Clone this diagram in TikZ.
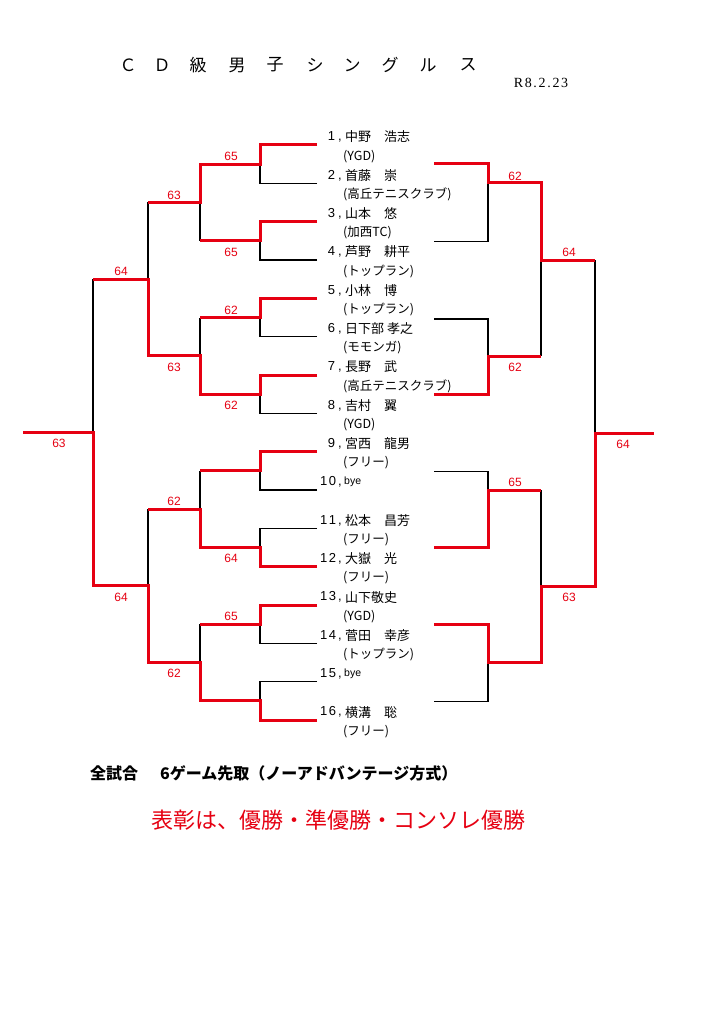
\documentclass[tikz,border=0pt]{standalone}
\usepackage{fontspec}
\setmainfont{Noto Sans CJK JP}
\newfontfamily\lat{Liberation Sans}
\newfontfamily\dtf[LetterSpace=12]{Liberation Serif}
\definecolor{rd}{RGB}{230,0,18}
\begin{document}
\begin{tikzpicture}[x=1pt,y=-1pt,
  win/.style={draw=rd,line width=3pt,line join=miter},
  lose/.style={draw=black,line width=1.3pt,line join=miter},
  sc/.style={text=rd,font=\lat\fontsize{12}{12}\selectfont,inner sep=0},
  nm/.style={anchor=west,inner sep=0,font=\fontsize{13}{13}\selectfont},
  af/.style={anchor=west,inner sep=0,font=\fontsize{12.5}{12.5}\selectfont},
  num/.style={anchor=east,inner sep=0,font=\lat\fontsize{13}{13}\selectfont},
  ttl/.style={inner sep=0,font=\fontsize{17}{17}\selectfont}]
\fill[white] (0,0) rectangle (724,1024);
\useasboundingbox (0,0) rectangle (724,1024);
% title
\foreach \xx/\cc [count=\i] in {128/Ｃ,162/Ｄ,198/級,237/男,275/子,315/シ,352/ン,390/グ,428/ル,468/ス}
  \node[ttl] (t\i) at (\xx,65) {\cc};
\node[inner sep=0,font=\dtf\fontsize{14}{14}\selectfont] (date) at (541,83) {R8.2.23};
% ===== left bracket: black (losers) =====
\draw[lose] (317,183.3) -- (260,183.3) -- (260,164.2);
\draw[lose] (317,260) -- (260,260) -- (260,240.8);
\draw[lose] (317,336.7) -- (260,336.7) -- (260,317.5);
\draw[lose] (317,413.3) -- (260,413.3) -- (260,394.2);
\draw[lose] (317,490) -- (260,490) -- (260,470.8);
\draw[lose] (317,528.3) -- (260,528.3) -- (260,547.5);
\draw[lose] (317,643.3) -- (260,643.3) -- (260,624.2);
\draw[lose] (317,681.7) -- (260,681.7) -- (260,700.8);
\draw[lose] (200,240.8) -- (200,202.5);
\draw[lose] (200,317.5) -- (200,355.8);
\draw[lose] (200,470.8) -- (200,509.2);
\draw[lose] (200,624.2) -- (200,662.5);
\draw[lose] (148,202.5) -- (148,279.2);
\draw[lose] (148,509.2) -- (148,585.8);
\draw[lose] (93,279.2) -- (93,432.5);
% ===== left bracket: red (winners) =====
\draw[win] (317,145) -- (260,145) -- (260,164.2) -- (200,164.2) -- (200,202.5) -- (148,202.5);
\draw[win] (317,221.7) -- (260,221.7) -- (260,240.8) -- (200,240.8);
\draw[win] (317,298.3) -- (260,298.3) -- (260,317.5) -- (200,317.5);
\draw[win] (317,375) -- (260,375) -- (260,394.2) -- (200,394.2) -- (200,355.8) -- (148,355.8) -- (148,279.2) -- (93,279.2);
\draw[win] (317,451.7) -- (260,451.7) -- (260,470.8) -- (200,470.8);
\draw[win] (317,566.7) -- (260,566.7) -- (260,547.5) -- (200,547.5) -- (200,509.2) -- (148,509.2);
\draw[win] (317,605) -- (260,605) -- (260,624.2) -- (200,624.2);
\draw[win] (317,720) -- (260,720) -- (260,700.8) -- (200,700.8) -- (200,662.5) -- (148,662.5) -- (148,585.8) -- (93,585.8) -- (93,432.5) -- (23,432.5);
% left scores
\node[sc] (sA) at (231,156) {65};
\node[sc] (sB) at (231,252) {65};
\node[sc] (sAB) at (174,195) {63};
\node[sc] (sC) at (231,310) {62};
\node[sc] (sD) at (231,405) {62};
\node[sc] (sCD) at (174,367) {63};
\node[sc] (sU) at (121,271) {64};
\node[sc] (sF) at (231,558) {64};
\node[sc] (sEF) at (174,501) {62};
\node[sc] (sG) at (231,616) {65};
\node[sc] (sGH) at (174,673) {62};
\node[sc] (sL) at (121,597) {64};
\node[sc] (sLF) at (59,443) {63};
% ===== right bracket: black =====
\draw[lose] (434,241.5) -- (488,241.5) -- (488,183);
\draw[lose] (434,319) -- (488,319) -- (488,356);
\draw[lose] (541,260) -- (541,356);
\draw[lose] (434,471.7) -- (488,471.7) -- (488,490);
\draw[lose] (434,701.7) -- (488,701.7) -- (488,662.7);
\draw[lose] (541,490) -- (541,586);
\draw[lose] (595,260) -- (595,433);
% ===== right bracket: red =====
\draw[win] (434,164) -- (488,164) -- (488,183) -- (541,183) -- (541,260) -- (595,260);
\draw[win] (434,394) -- (488,394) -- (488,356) -- (541,356);
\draw[win] (434,547.7) -- (488,547.7) -- (488,490) -- (541,490);
\draw[win] (434,624) -- (488,624) -- (488,662.7) -- (541,662.7) -- (541,586) -- (595,586) -- (595,433) -- (654,433);
% right scores
\node[sc] (rA) at (515,176) {62};
\node[sc] (rB) at (515,367) {62};
\node[sc] (rU) at (569,252) {64};
\node[sc] (rC) at (515,482) {65};
\node[sc] (rL) at (569,597) {63};
\node[sc] (rF) at (623,444) {64};
% ===== players =====
\node[num] (n1) at (342,137) {1\kern3pt,};   \node[nm] (p1) at (345,137) {中野　浩志};
\node[af] (a1) at (343,156.2) {(YGD)};
\node[num] (n2) at (342,175.3) {2\kern3pt,}; \node[nm] (p2) at (345,175.3) {首藤　崇};
\node[af] (a2) at (343,194.5) {(高丘テニスクラブ)};
\node[num] (n3) at (342,213.7) {3\kern3pt,}; \node[nm] (p3) at (345,213.7) {山本　悠};
\node[af] (a3) at (343,232.9) {(加西TC)};
\node[num] (n4) at (342,252) {4\kern3pt,};   \node[nm] (p4) at (345,252) {芦野　耕平};
\node[af] (a4) at (343,271.2) {(トップラン)};
\node[num] (n5) at (342,290.4) {5\kern3pt,}; \node[nm] (p5) at (345,290.4) {小林　博};
\node[af] (a5) at (343,309.5) {(トップラン)};
\node[num] (n6) at (342,328.7) {6\kern3pt,}; \node[nm] (p6) at (345,328.7) {日下部 孝之};
\node[af] (a6) at (343,347.9) {(モモンガ)};
\node[num] (n7) at (342,367) {7\kern3pt,};   \node[nm] (p7) at (345,367) {長野　武};
\node[af] (a7) at (343,386.2) {(高丘テニスクラブ)};
\node[num] (n8) at (342,405.4) {8\kern3pt,}; \node[nm] (p8) at (345,405.4) {吉村　翼};
\node[af] (a8) at (343,424.6) {(YGD)};
\node[num] (n9) at (342,443.7) {9\kern3pt,}; \node[nm] (p9) at (345,443.7) {宮西　龍男};
\node[af] (a9) at (343,462.9) {(フリー)};
\node[num] (n10) at (342,482.1) {1\kern1.5pt0\kern2pt,}; \node[nm,font=\lat\fontsize{10.5}{10.5}\selectfont] (p10) at (344,482.1) {bye};
\node[num] (n11) at (342,520.4) {1\kern1.5pt1\kern2pt,}; \node[nm] (p11) at (345,520.4) {松本　昌芳};
\node[af] (a11) at (343,539.6) {(フリー)};
\node[num] (n12) at (342,558.7) {1\kern1.5pt2\kern2pt,}; \node[nm] (p12) at (345,558.7) {大嶽　光};
\node[af] (a12) at (343,577.9) {(フリー)};
\node[num] (n13) at (342,597.1) {1\kern1.5pt3\kern2pt,}; \node[nm] (p13) at (345,597.1) {山下敬史};
\node[af] (a13) at (343,616.3) {(YGD)};
\node[num] (n14) at (342,635.4) {1\kern1.5pt4\kern2pt,}; \node[nm] (p14) at (345,635.4) {菅田　幸彦};
\node[af] (a14) at (343,654.6) {(トップラン)};
\node[num] (n15) at (342,673.8) {1\kern1.5pt5\kern2pt,}; \node[nm,font=\lat\fontsize{10.5}{10.5}\selectfont] (p15) at (344,673.8) {bye};
\node[num] (n16) at (342,712.1) {1\kern1.5pt6\kern2pt,}; \node[nm] (p16) at (345,712.1) {横溝　聡};
\node[af] (a16) at (343,731.3) {(フリー)};
% ===== notes =====
\node[anchor=west,inner sep=0,font=\bfseries\fontsize{16}{16}\selectfont] (rule) at (90,773) {全試合\kern22pt 6ゲーム先取（ノーアドバンテージ方式）};
\node[inner sep=0,text=rd,font=\fontsize{22}{22}\selectfont] (award) at (338,820) {表彰は、優勝・準優勝・コンソレ優勝};
\end{tikzpicture}
\end{document}
